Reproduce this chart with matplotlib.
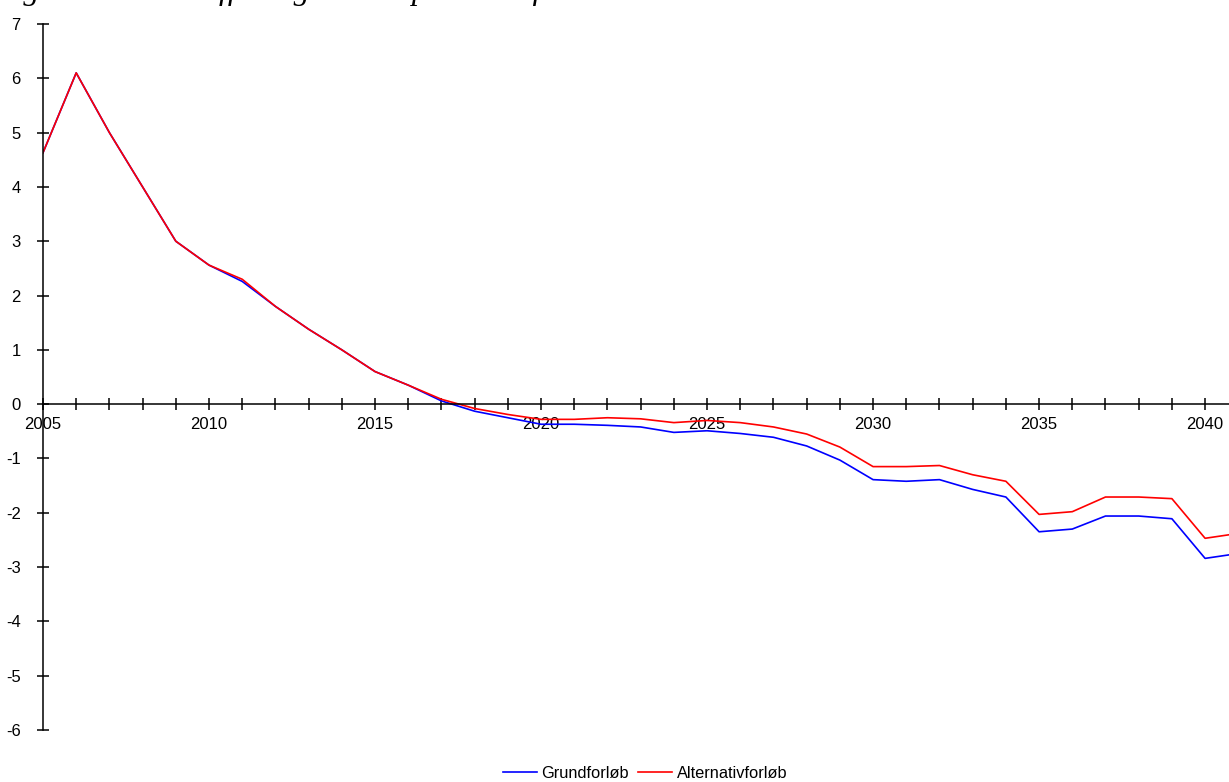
import matplotlib
matplotlib.use("Agg")
import matplotlib.pyplot as plt
from matplotlib.ticker import MultipleLocator, FixedLocator

plt.rcParams['font.family'] = ['Liberation Sans', 'DejaVu Sans']
plt.rcParams['axes.unicode_minus'] = False

years = list(range(2005, 2042))
grundforloeb = [4.63, 6.10, 5.00, 4.00, 3.00, 2.56, 2.26, 1.80, 1.38, 1.00, 0.60, 0.35, 0.06,
                -0.13, -0.25, -0.37, -0.37, -0.39, -0.42, -0.52, -0.49, -0.54, -0.61, -0.77,
                -1.03, -1.39, -1.42, -1.39, -1.57, -1.71, -2.35, -2.30, -2.06, -2.06, -2.11,
                -2.84, -2.75]
alternativforloeb = [4.63, 6.10, 5.00, 4.00, 3.00, 2.56, 2.30, 1.80, 1.38, 1.00, 0.60, 0.35, 0.09,
                     -0.08, -0.19, -0.28, -0.28, -0.25, -0.27, -0.34, -0.30, -0.34, -0.42, -0.55,
                     -0.79, -1.15, -1.15, -1.13, -1.30, -1.42, -2.03, -1.98, -1.71, -1.71, -1.74,
                     -2.47, -2.38]
y_ticks = [-6, -5, -4, -3, -2, -1, 0, 1, 2, 3, 4, 5, 6, 7]
x_labels = [2005, 2010, 2015, 2020, 2025, 2030, 2035, 2040]
title = "Figur 3. Samlet offentlig saldo i procent af BNP"

W, H = 1229, 782
fig = plt.figure(figsize=(W / 100, H / 100), dpi=100)
ax = fig.add_axes([43 / W, 1 - 730 / H, (W - 43) / W, (730 - 24) / H])
ax.set_xlim(2005, 2040.72)
ax.set_ylim(-6, 7)

ax.plot(years, grundforloeb, color='#0000ff', lw=1.2, label='Grundforløb')
ax.plot(years, alternativforloeb, color='#ff0000', lw=1.2, label='Alternativforløb')

for s in ['top', 'right']:
    ax.spines[s].set_visible(False)
ax.spines['bottom'].set_position(('data', 0))
ax.spines['left'].set_position(('data', 2005))
for s in ['bottom', 'left']:
    ax.spines[s].set_color('black')
    ax.spines[s].set_linewidth(1.1)

ax.yaxis.set_major_locator(FixedLocator(y_ticks))
ax.xaxis.set_major_locator(FixedLocator(x_labels))
ax.xaxis.set_minor_locator(MultipleLocator(1))
ax.tick_params(axis='y', direction='inout', length=8, width=1.1, pad=12, labelsize=12, colors='black')
ax.tick_params(axis='x', which='both', direction='inout', length=8, width=1.1, pad=5, labelsize=12, colors='black')
ax.set_yticklabels([str(v) for v in y_ticks])
ax.set_xticklabels([str(v) for v in x_labels])

fig.legend(loc='center', bbox_to_anchor=(0.525, 1 - 773 / H), ncol=2, frameon=False,
           fontsize=11.8, handlelength=2.05, handletextpad=0.3, columnspacing=0.55)

fig.text(-0.004, 1 + 1 / H, title, fontsize=23, style='italic', family='Liberation Serif',
         va='baseline', ha='left')

fig.savefig('out.png', dpi=100)
